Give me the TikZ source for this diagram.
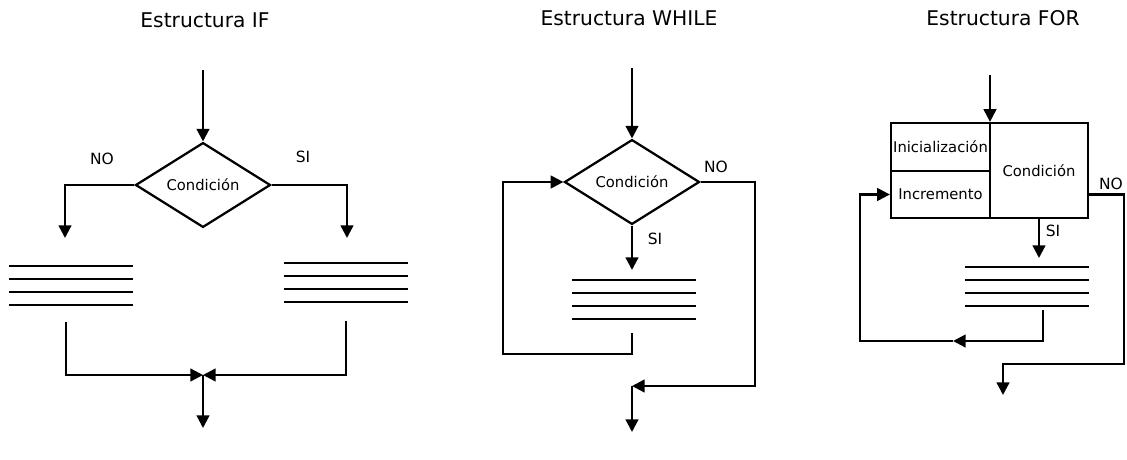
\documentclass[tikz,border=0pt]{standalone}
\usepackage{fontspec}
\setmainfont{DejaVu Sans}
\usepackage{tikz}
\usetikzlibrary{shapes.geometric,arrows.meta,positioning,calc}

\begin{document}
\begin{tikzpicture}[
    x=0.025cm, y=-0.025cm,
    line width=1.6pt,
    title/.style={font=\fontsize{14.4}{17}\selectfont},
    lbl/.style={font=\fontsize{11}{13}\selectfont},
    cond/.style={diamond, draw, minimum width=3.375cm, minimum height=2.1cm, inner sep=0pt, font=\fontsize{10.5}{12}\selectfont},
    cell/.style={rectangle, draw, inner sep=0pt, font=\fontsize{10.5}{12}\selectfont},
    arrow/.style={-{Triangle[length=9pt,width=9pt]}}
]
\useasboundingbox (0,0) rectangle (1127,460);

% Titles
\node[title] (iftitle) at (205,20) {Estructura IF};
\node[title] (whtitle) at (629,18) {Estructura WHILE};
\node[title] (fortitle) at (1003,18) {Estructura FOR};

% Statement blocks
\foreach \xa/\ya in {9/266, 284/263, 572/280, 965/267}
    \foreach \k in {0,...,3}
        \draw (\xa,\ya+13*\k) -- (\xa+124,\ya+13*\k);

% IF structure
\node[cond] (ifcond) at (203,185) {Condición};
\node[lbl] (ifnolbl) at (102,159) {NO};
\node[lbl] (ifsilbl) at (303,157) {SI};
\coordinate (ifin) at (203,70);
\coordinate (ifno) at (65,238);
\coordinate (ifsi) at (347,238);
\coordinate (ifnoend) at (66,322);
\coordinate (ifsiend) at (346,321);
\coordinate (ifjoin) at (203,375);
\coordinate (ifout) at (203,428);
\draw[arrow] (ifin) -- (ifcond);
\draw[arrow] (ifcond) -| (ifno);
\draw[arrow] (ifcond) -| (ifsi);
\draw[arrow] (ifnoend) |- (ifjoin);
\draw[arrow] (ifsiend) |- (ifjoin);
\draw[arrow] (ifjoin) -- (ifout);

% WHILE structure
\node[cond] (whcond) at (632,182) {Condición};
\node[lbl] (whnolbl) at (716,167) {NO};
\node[lbl] (whsilbl) at (655,239) {SI};
\coordinate (whin) at (632,68);
\coordinate (whsi) at (632,270);
\coordinate (whback) at (632,333);
\coordinate (whloop) at (503,354);
\coordinate (whcorner) at (755,386);
\coordinate (whjoin) at (632,386);
\coordinate (whout) at (632,432);
\draw[arrow] (whin) -- (whcond);
\draw[arrow] (whcond) -- (whsi);
\draw[arrow] (whback) |- (whloop) |- (whcond);
\draw[arrow] (whcond) -| (whcorner) -- (whjoin);
\draw[arrow] (whjoin) -- (whout);

% FOR structure
\node[cell, minimum width=2.475cm, minimum height=1.2cm] (forinit) at (940.5,147) {Inicialización};
\node[cell, minimum width=2.475cm, minimum height=1.175cm] (forinc) at (940.5,194.5) {Incremento};
\node[cell, minimum width=2.45cm, minimum height=2.375cm] (forcond) at (1039,170.5) {Condición};
\node[lbl] (fornolbl) at (1111,184) {NO};
\node[lbl] (forsilbl) at (1053,231) {SI};
\coordinate (forin) at (990,75);
\coordinate (forsi) at (1039,258);
\coordinate (forback) at (1043,310);
\coordinate (formid) at (953,341);
\coordinate (forleft) at (860,341);
\coordinate (forright) at (1124,364);
\coordinate (forout) at (1003,395);
\draw[arrow] (forin) -- (forin |- forcond.north);
\draw[arrow] (forcond) -- (forsi);
\draw[arrow] (forback) |- (formid);
\draw[arrow] (formid) -- (forleft) |- (forinc);
\draw[arrow] (forcond.east |- forinc) -| (forright) -| (forout);

\end{tikzpicture}
\end{document}
